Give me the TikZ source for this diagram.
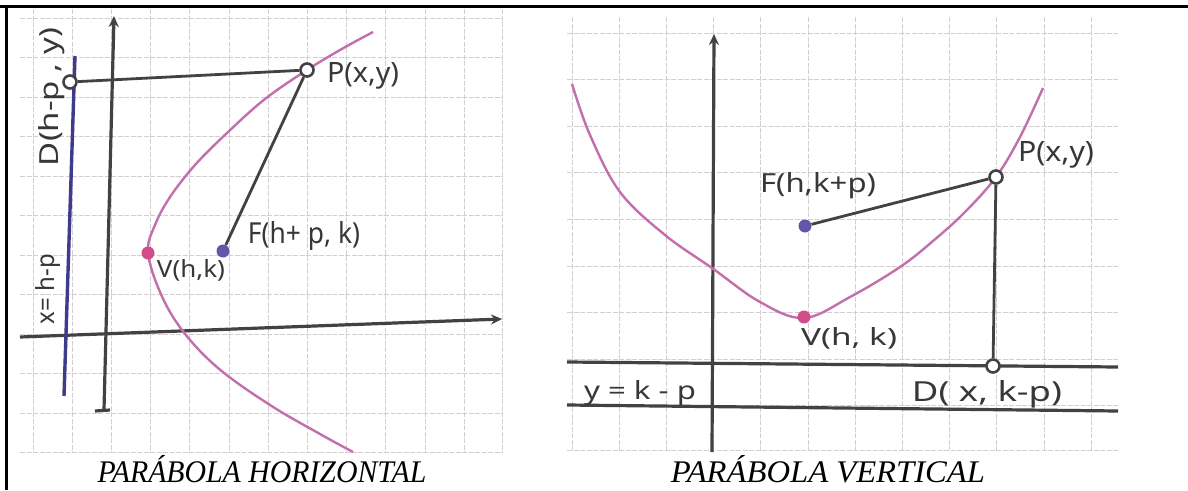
\documentclass[tikz,border=0pt]{standalone}
\usepackage{fontspec}
\setmainfont{Liberation Serif}
\newfontfamily\handfont{Noto Sans}
\usetikzlibrary{arrows.meta}
\definecolor{gridc}{RGB}{212,205,210}
\definecolor{axisc}{RGB}{66,66,68}
\definecolor{parc}{RGB}{194,112,172}
\definecolor{dirc}{RGB}{62,58,140}
\definecolor{focc}{RGB}{98,86,168}
\definecolor{vtxc}{RGB}{210,76,140}
\definecolor{inkc}{RGB}{55,55,55}
\newcommand\fitwh[3]{\resizebox{#1pt}{#2pt}{#3}}
\tikzset{
  gridline/.style={draw=gridc, line width=0.9pt, dash pattern=on 5pt off 1.5pt},
  axisline/.style={draw=axisc, line width=3.2pt},
  axisarrow/.style={axisline, -{Stealth[length=11pt,width=10pt]}},
  parline/.style={draw=parc, line width=2.4pt},
  segline/.style={draw=axisc, line width=2.8pt},
  opendot/.style={circle, draw=axisc, fill=white, line width=2.6pt, minimum size=13pt, inner sep=0pt},
  focdot/.style={circle, fill=focc, minimum size=13pt, inner sep=0pt},
  vtxdot/.style={circle, fill=vtxc, minimum size=13pt, inner sep=0pt},
  hand/.style={font=\handfont, text=inkc, inner sep=0pt},
  caption/.style={font=\itshape, text=black, inner sep=0pt}
}
\begin{document}
\begin{tikzpicture}[x=1pt,y=-1pt]
\useasboundingbox (0,0) rectangle (1188,490);
\fill[white] (0,0) rectangle (1188,490);
% table borders
\draw[line width=3pt] (0,6.5) -- (1188,6.5);
\draw[line width=3pt] (6,5) -- (6,490);
\fill[white] (20,8) rectangle (503,452);
% ---------- left grid ----------
\foreach \i in {0,...,11} \draw[gridline] ({33+39.2*\i},9) -- ({33+39.2*\i},452);
\draw[gridline] (502,9) -- (502,452);
\foreach \j in {0,...,11} \draw[gridline] (20,{18+39.5*\j}) -- (503,{18+39.5*\j});
% ---------- right grid ----------
\foreach \i in {0,...,11} \draw[gridline] ({572+47.2*\i},17) -- ({572+47.2*\i},450);
\foreach \j in {0,...,8} \draw[gridline] (567,{33+46.6*\j}) -- (1118,{33+46.6*\j});
\draw[gridline] (567,450) -- (1118,450);

% ================= LEFT: horizontal parabola =================
\coordinate (lyb) at (104,410);
\coordinate (lyt) at (114,16);
\coordinate (lxl) at (20,337);
\coordinate (lxr) at (502,319);
\coordinate (ldt) at (75,56);
\coordinate (ldb) at (64,396);
\draw[axisarrow] (lyb) -- (lyt);
\draw[axisline] (95,411) -- (110,410);
\draw[axisarrow] (lxl) -- (lxr);
\draw[draw=dirc, line width=3.4pt] (ldt) -- (ldb);
\draw[parline] plot[smooth, tension=0.6] coordinates {(373,32) (340,50) (307,70) (265,99) (227,133) (195,165) (170,197) (155,225) (148,252) (160,292) (182,330) (218,368) (270,405) (320,434) (353,452)};
\node[opendot] (Dl) at (70,82) {};
\node[opendot] (Pl) at (307,70) {};
\node[focdot] (Fl) at (223,251) {};
\node[vtxdot] (Vl) at (148,253) {};
\draw[segline] (Dl) -- (Pl);
\draw[segline] (Pl) -- (Fl);
\node[hand] (lPl) at (363,76) {\fitwh{72}{20}{P(x,y)}};
\node[hand] (lFl) at (304,236) {\fitwh{112}{22}{F(h+ p, k)}};
\node[hand] (lVl) at (191,270) {\fitwh{68}{18}{V(h,k)}};
\node[hand, rotate=90] (lDl) at (52,97) {\fitwh{138}{20}{D(h-p , y)}};
\node[hand, rotate=90] (lxl2) at (48,289) {\fitwh{70}{19}{x= h-p}};

% ================= RIGHT: vertical parabola =================
\coordinate (ryb) at (712,452);
\coordinate (ryt) at (714,34);
\coordinate (rd1l) at (567,362);
\coordinate (rd1r) at (1118,367);
\coordinate (rd2l) at (567,405);
\coordinate (rd2r) at (1118,411);
\draw[axisarrow] (ryb) -- (ryt);
\draw[axisline] (rd1l) -- (rd1r);
\draw[axisline] (rd2l) -- (rd2r);
\draw[parline] plot[smooth, tension=0.6] coordinates {(572,84) (590,135) (620,192) (665,235) (712,268) (760,302) (804,318) (850,297) (900,267) (933,241) (965,212) (996,177) (1020,137) (1043,88)};
\node[opendot] (Pr) at (996,177) {};
\node[opendot] (Dr) at (993,366) {};
\node[focdot] (Fr) at (805,226) {};
\node[vtxdot] (Vr) at (804,317) {};
\draw[segline] (Fr) -- (Pr);
\draw[segline] (Pr) -- (Dr);
\node[hand] (lPr) at (1056,155) {\fitwh{76}{20}{P(x,y)}};
\node[hand] (lFr) at (818,186) {\fitwh{116}{20}{F(h,k+p)}};
\node[hand] (lVr) at (849,338) {\fitwh{96}{18}{V(h, k)}};
\node[hand] (lyr) at (640,393) {\fitwh{112}{19}{y = k - p}};
\node[hand] (lDr) at (987,394) {\fitwh{150}{21}{D( x, k-p)}};

% ---------- captions ----------
\node[caption, anchor=base] (capl) at (262,482) {\fitwh{329}{27}{PARÁBOLA HORIZONTAL}};
\node[caption, anchor=base] (capr) at (828,482) {\fitwh{314}{27}{PARÁBOLA VERTICAL}};
\end{tikzpicture}
\end{document}
